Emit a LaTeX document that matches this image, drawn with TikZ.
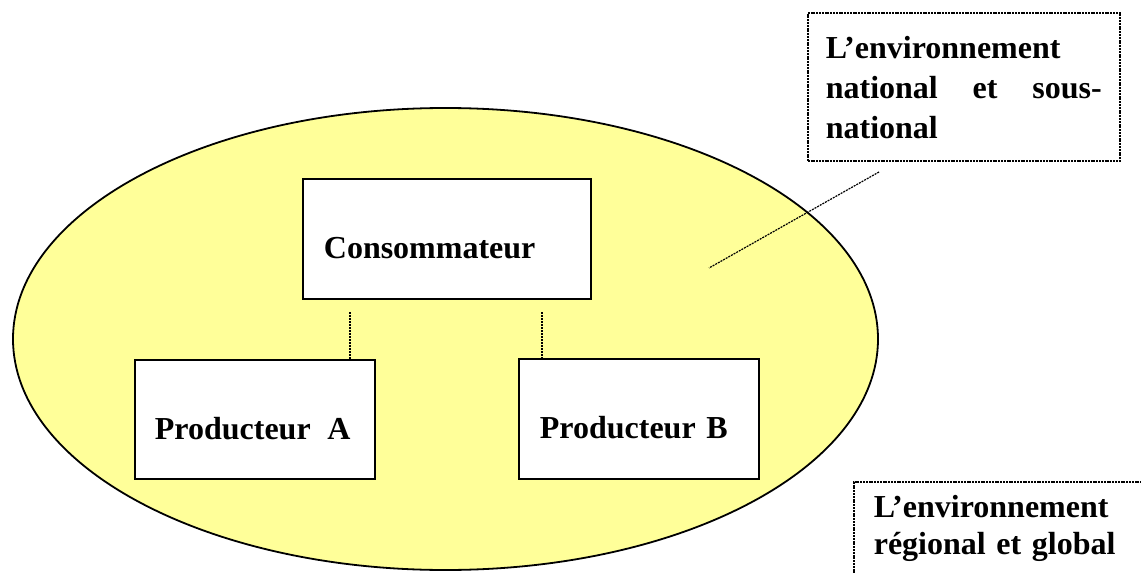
\documentclass[tikz,border=0pt]{standalone}
\usepackage{fontspec}
\setmainfont{Liberation Serif}
\usetikzlibrary{shapes.geometric}
\definecolor{ellfill}{HTML}{FFFF99}
\newcommand{\myboxfont}{\bfseries\fontsize{16pt}{20pt}\selectfont\spaceskip=0.2em plus 0.1em minus 0.05em\relax}
\newcommand{\myregfont}{\bfseries\fontsize{16pt}{18.5pt}\selectfont\spaceskip=0.2em plus 0.1em minus 0.05em\relax}
\tikzset{
  box/.style={draw=black, line width=0.9pt, fill=white, anchor=north west,
    inner ysep=0pt, align=left, font=\myboxfont},
  dotbox/.style={box, dash pattern=on 1pt off 0.4pt, line width=0.8pt},
  conn/.style={draw=black, line width=0.6pt, dash pattern=on 1pt off 0.5pt},
  envshape/.style={draw=black, line width=0.9pt, fill=ellfill, ellipse,
    inner sep=0pt, minimum width=432.5pt, minimum height=231pt}
}
\begin{document}
\begin{tikzpicture}[x=0.5pt, y=-0.5pt]
\useasboundingbox (0,0) rectangle (1141,573);
\clip (0,0) rectangle (1141,573);
% environment ellipse
\node[envshape] (env) at (445.5,339) {};
% boxes
\node[box, inner xsep=10.5pt, text width=123pt, text height=40pt, text depth=20pt]
  (cons) at (302,178) {Consommateur};
\node[box, inner xsep=10pt, text width=100pt, text height=40pt, text depth=19.5pt]
  (pa) at (134,359) {Producteur\hspace{3pt} A};
\node[box, inner xsep=10.5pt, text width=99pt, text height=40pt, text depth=20pt]
  (pb) at (518,358) {Producteur B};
% national box
\node[dotbox, inner xsep=9pt, text width=138pt, text height=23pt, text depth=51pt]
  (nat) at (807,12) {L’environnement\\ national\hfill et\hfill sous-\\ national};
% regional box
\node[dotbox, inner xsep=10pt, text width=130pt, text height=18pt, text depth=60pt,
  font=\myregfont]
  (reg) at (853,481) {L’environnement\\ régional et global};
% connectors
\coordinate (ca) at (350,312);
\coordinate (cb) at (542,312);
\draw[conn] (ca) -- (ca |- pa.north);
\draw[conn] (cb) -- (cb |- pb.north);
\coordinate (l1) at (879,172);
\coordinate (l2) at (709,268);
\draw[conn] (l1) -- (l2);
\end{tikzpicture}
\end{document}
